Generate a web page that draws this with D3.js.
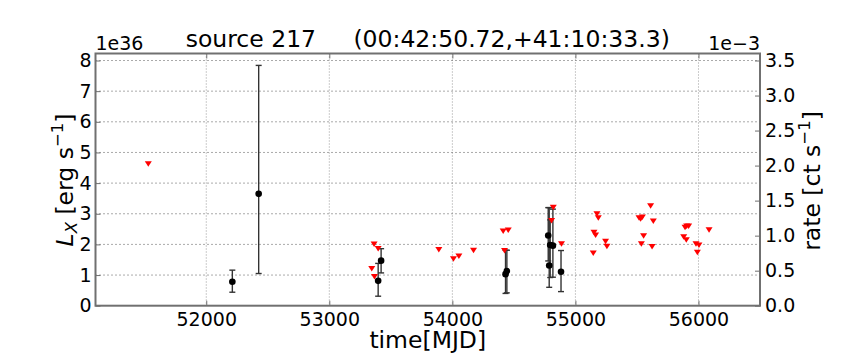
<!DOCTYPE html>
<html>
<head>
<meta charset="utf-8">
<script src="https://cdn.jsdelivr.net/npm/d3@7"></script>
<style>
  body { margin: 0; background: #fff; }
  text { font-family: "DejaVu Sans", sans-serif; fill: #000; }
</style>
</head>
<body>
<div id="chart"></div>
<script>
// detections (L_X in 1e36 erg/s) with asymmetric error bounds
const detMjd = [52212, 52426, 53397, 53421, 54432, 54443, 54779, 54787, 54795, 54817, 54883];
const detLx  = [0.78, 3.65, 0.81, 1.47, 1.03, 1.13, 2.29, 1.31, 1.98, 1.96, 1.11];
const detLo  = [0.44, 1.05, 0.31, 1.07, 0.40, 0.42, 1.46, 0.60, 0.92, 0.93, 0.46];
const detHi  = [1.16, 7.84, 1.38, 1.86, 1.81, 1.81, 3.20, 3.20, 2.80, 3.15, 1.80];

// upper limits
const ulMjd = [51529, 53364, 53397, 53345, 53367, 53890, 54009, 54053, 54172, 54413,
               54454, 54424, 54820, 54806, 54887, 55175, 55186, 55151, 55164, 55145,
               55245, 55256, 55611, 55517, 55530, 55544, 55633, 55554, 55536, 55623,
               55891, 55904, 55920, 55880, 55901, 55980, 56004, 55991, 56086];
const ulLx  = [4.63, 2.01, 1.87, 1.21, 0.95, 1.83, 1.53, 1.62, 1.81, 2.44,
               2.47, 1.80, 3.21, 2.78, 2.02, 3.00, 2.87, 2.40, 2.31, 1.72,
               2.10, 1.94, 3.26, 2.87, 2.84, 2.89, 2.76, 2.28, 2.02, 1.93,
               2.56, 2.60, 2.60, 2.25, 2.15, 2.02, 1.98, 1.74, 2.48];

const xTicks = [52000, 53000, 54000, 55000, 56000];
const leftTicks = [0, 1, 2, 3, 4, 5, 6, 7, 8];
const rightTicks = [0, 0.5, 1.0, 1.5, 2.0, 2.5, 3.0, 3.5];

const width = 864, height = 360;
const pL = 95.5, pR = 760, pT = 53.5, pB = 305.7;
const spineColor = "#707070";
const tickFont = "19px", labelFont = "23.5px";

const svg = d3.select("#chart").append("svg").attr("width", width).attr("height", height);

const x = d3.scaleLinear().domain([51100, 56500]).range([pL, pR]);
const yL = d3.scaleLinear().domain([0, 3.6 * 8 / 3.5]).range([pB, pT]);
const yR = d3.scaleLinear().domain([0, 3.6]).range([pB, pT]);

// grid
svg.append("g").attr("stroke", "#999").attr("stroke-width", 1).attr("stroke-dasharray", "1,2")
  .selectAll("line").data(xTicks).enter().append("line")
  .attr("x1", d => x(d)).attr("x2", d => x(d)).attr("y1", pT).attr("y2", pB);
svg.append("g").attr("stroke", "#555").attr("stroke-width", 1).attr("stroke-dasharray", "1,3")
  .selectAll("line").data(leftTicks.slice(1)).enter().append("line")
  .attr("x1", pL).attr("x2", pR).attr("y1", d => yL(d)).attr("y2", d => yL(d));

// axes with inward ticks
function styleAxis(g) {
  g.select(".domain").remove();
  g.selectAll(".tick line").attr("stroke", spineColor).attr("stroke-width", 1);
  g.selectAll(".tick text").attr("font-size", tickFont).attr("fill", "#000");
}
svg.append("g").attr("transform", `translate(0,${pB})`)
  .call(d3.axisBottom(x).tickValues(xTicks).tickSizeInner(-5).tickSizeOuter(0).tickPadding(6.5).tickFormat(d3.format("d")))
  .call(styleAxis);
svg.append("g").attr("transform", `translate(0,${pT})`)
  .call(d3.axisTop(x).tickValues(xTicks).tickSizeInner(-5).tickSizeOuter(0).tickFormat(""))
  .call(styleAxis);
svg.append("g").attr("transform", `translate(${pL},0)`)
  .call(d3.axisLeft(yL).tickValues(leftTicks).tickSizeInner(-5).tickSizeOuter(0).tickPadding(4).tickFormat(d3.format("d")))
  .call(styleAxis);
svg.append("g").attr("transform", `translate(${pR},0)`)
  .call(d3.axisRight(yR).tickValues(rightTicks).tickSizeInner(-5).tickSizeOuter(0).tickPadding(5).tickFormat(d3.format(".1f")))
  .call(styleAxis);

// frame
svg.append("rect").attr("x", pL).attr("y", pT).attr("width", pR - pL).attr("height", pB - pT)
  .attr("fill", "none").attr("stroke", spineColor).attr("stroke-width", 2);

// error bars
const eb = svg.append("g").attr("stroke", "#333").attr("stroke-width", 1.4);
detMjd.forEach((m, i) => {
  const cx = x(m);
  eb.append("line").attr("x1", cx).attr("x2", cx).attr("y1", yL(detLo[i])).attr("y2", yL(detHi[i]));
  eb.append("line").attr("x1", cx - 3).attr("x2", cx + 3).attr("y1", yL(detLo[i])).attr("y2", yL(detLo[i]));
  eb.append("line").attr("x1", cx - 3).attr("x2", cx + 3).attr("y1", yL(detHi[i])).attr("y2", yL(detHi[i]));
});

// upper limits as red down triangles
svg.append("g").selectAll("path").data(ulMjd).enter().append("path")
  .attr("transform", (d, i) => `translate(${x(d)},${yL(ulLx[i])})`)
  .attr("d", "M-3.5,-2.5L3.5,-2.5L0,3Z")
  .attr("fill", "#ff0000");

// detections
svg.append("g").selectAll("circle").data(detMjd).enter().append("circle")
  .attr("cx", d => x(d)).attr("cy", (d, i) => yL(detLx[i])).attr("r", 3.3)
  .attr("fill", "#000");

// texts
svg.append("text").attr("x", (pL + pR) / 2).attr("y", 46.5).attr("text-anchor", "middle")
  .attr("font-size", labelFont).attr("xml:space", "preserve")
  .text("source 217     (00:42:50.72,+41:10:33.3)");
svg.append("text").attr("x", pL).attr("y", 50).attr("font-size", tickFont).text("1e36");
svg.append("text").attr("x", pR).attr("y", 50).attr("text-anchor", "end").attr("font-size", tickFont).text("1e\u22123");

svg.append("text").attr("x", (pL + pR) / 2).attr("y", 348.3).attr("text-anchor", "middle")
  .attr("font-size", labelFont).text("time[MJD]");

const ylab = svg.append("text").attr("transform", "translate(73,180) rotate(-90)")
  .attr("text-anchor", "middle").attr("font-size", labelFont);
ylab.append("tspan").attr("font-style", "italic").text("L");
ylab.append("tspan").attr("font-style", "italic").attr("font-size", "16.5px").attr("dy", 4).text("X");
ylab.append("tspan").attr("dy", -4).text(" [erg s");
ylab.append("tspan").attr("font-size", "16.5px").attr("dy", -10).text("\u22121");
ylab.append("tspan").attr("dy", 10).text("]");

const rlab = svg.append("text").attr("transform", "translate(820,181) rotate(-90)")
  .attr("text-anchor", "middle").attr("font-size", labelFont);
rlab.append("tspan").text("rate [ct s");
rlab.append("tspan").attr("font-size", "16.5px").attr("dy", -10).text("\u22121");
rlab.append("tspan").attr("dy", 10).text("]");
</script>
</body>
</html>
